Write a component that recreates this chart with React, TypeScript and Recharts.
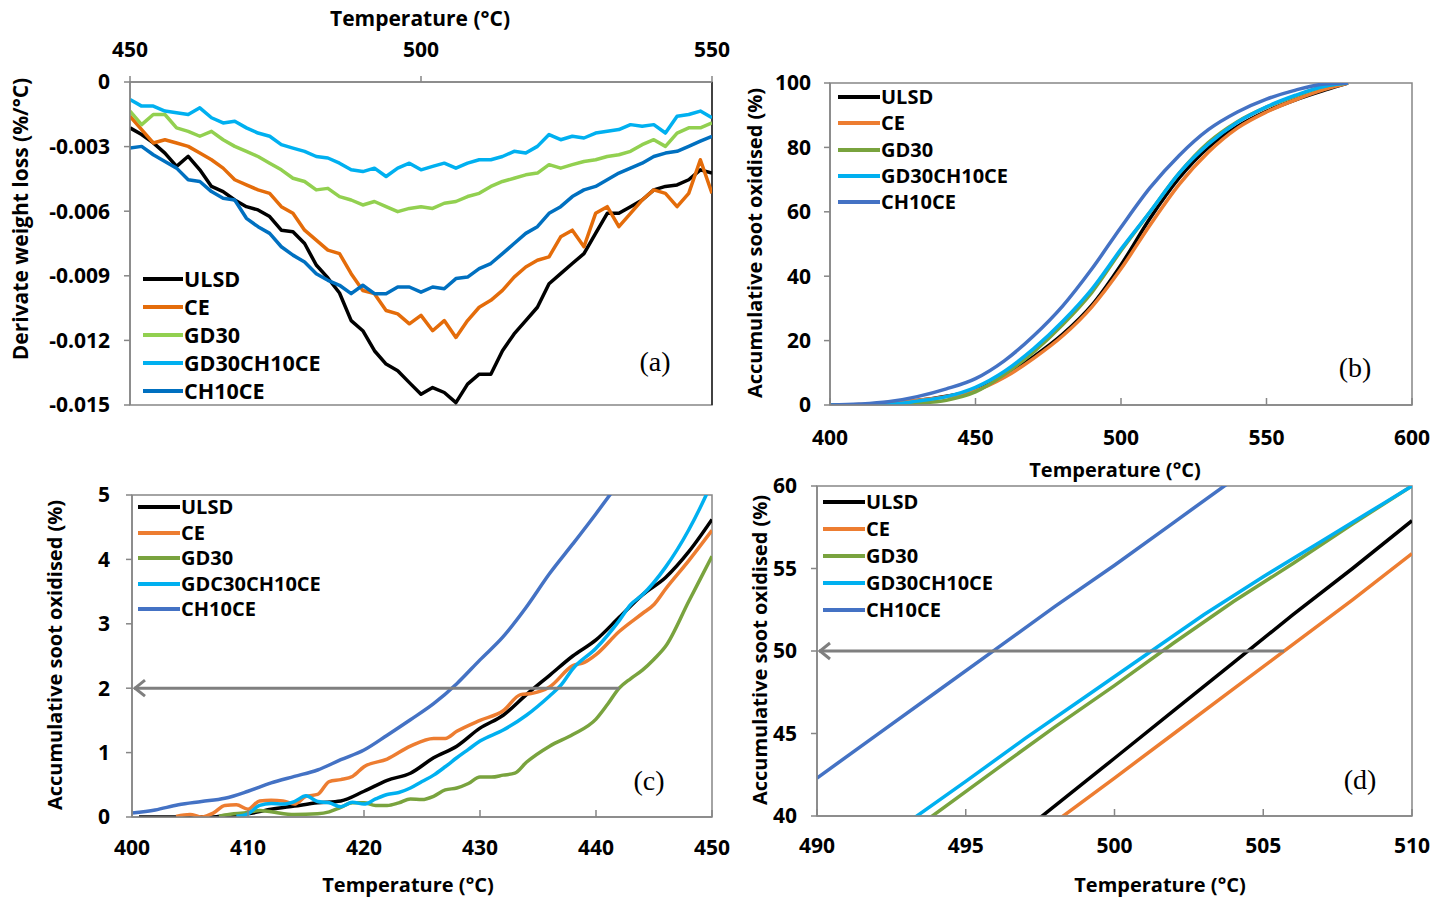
import { LineChart, Line, XAxis, YAxis, ReferenceArea, ReferenceLine, Legend } from 'recharts'

const FONT = '"Open Sans", sans-serif'
const AXIS = '#868686'

// ---- panel (a): derivative weight loss ----
const TEMP_A = [450, 452, 454, 456, 458, 460, 462, 464, 466, 468, 470, 472, 474, 476, 478, 480, 482, 484, 486, 488, 490, 492, 494, 496, 498, 500, 502, 504, 506, 508, 510, 512, 514, 516, 518, 520, 522, 524, 526, 528, 530, 532, 534, 536, 538, 540, 542, 544, 546, 548, 550]
const ULSD_A = [-0.00213, -0.00244, -0.00283, -0.0033, -0.00392, -0.00345, -0.00408, -0.00485, -0.00509, -0.00548, -0.00579, -0.00594, -0.00625, -0.00688, -0.00695, -0.0075, -0.0085, -0.0091, -0.0098, -0.01108, -0.01155, -0.01248, -0.0131, -0.01341, -0.01396, -0.0145, -0.01419, -0.01442, -0.01489, -0.01403, -0.01357, -0.01357, -0.01248, -0.0117, -0.01108, -0.01046, -0.00937, -0.0089, -0.00843, -0.00797, -0.00703, -0.0061, -0.0061, -0.00579, -0.00548, -0.00501, -0.00485, -0.00478, -0.00454, -0.00408, -0.00423]
const CE_A = [-0.00159, -0.00221, -0.00283, -0.00268, -0.00283, -0.00299, -0.0033, -0.00361, -0.004, -0.00454, -0.00478, -0.00501, -0.00517, -0.00579, -0.0061, -0.00688, -0.00734, -0.00781, -0.00797, -0.0089, -0.00968, -0.00983, -0.01061, -0.01077, -0.01123, -0.01084, -0.01155, -0.01108, -0.01186, -0.01108, -0.01046, -0.01014, -0.00968, -0.00906, -0.00859, -0.00828, -0.00812, -0.00719, -0.00688, -0.00765, -0.0061, -0.00579, -0.00672, -0.0061, -0.00548, -0.00501, -0.00517, -0.00579, -0.00517, -0.00361, -0.00517]
const GD30_A = [-0.00135, -0.00198, -0.00151, -0.00151, -0.00213, -0.00229, -0.00252, -0.00229, -0.00268, -0.00299, -0.00322, -0.00346, -0.00377, -0.00408, -0.00447, -0.00462, -0.00501, -0.00494, -0.00532, -0.00548, -0.00571, -0.00555, -0.00579, -0.00602, -0.00587, -0.00579, -0.00587, -0.00563, -0.00555, -0.00532, -0.00517, -0.00485, -0.00462, -0.00447, -0.00431, -0.00423, -0.00384, -0.004, -0.00384, -0.00369, -0.00361, -0.00346, -0.00338, -0.00322, -0.00291, -0.00268, -0.00299, -0.00237, -0.00213, -0.00213, -0.0019]
const GDCH_A = [-0.00081, -0.00112, -0.00112, -0.00135, -0.00143, -0.00151, -0.0012, -0.00166, -0.0019, -0.00182, -0.00213, -0.00237, -0.00252, -0.00291, -0.00307, -0.00322, -0.00346, -0.00353, -0.00377, -0.00408, -0.00416, -0.004, -0.00439, -0.004, -0.00377, -0.00408, -0.00392, -0.00377, -0.004, -0.00377, -0.00361, -0.00361, -0.00346, -0.00322, -0.0033, -0.00299, -0.00244, -0.00268, -0.00252, -0.0026, -0.00237, -0.00229, -0.00221, -0.00198, -0.00205, -0.00198, -0.00237, -0.00159, -0.00151, -0.00135, -0.00166]
const CH_A = [-0.00307, -0.00299, -0.00338, -0.00369, -0.004, -0.00454, -0.00462, -0.00509, -0.0054, -0.00548, -0.00633, -0.00672, -0.00703, -0.00765, -0.00804, -0.00836, -0.0089, -0.00921, -0.00944, -0.00983, -0.00944, -0.00983, -0.00983, -0.00952, -0.00952, -0.00976, -0.00952, -0.0096, -0.00913, -0.00906, -0.00867, -0.00843, -0.00797, -0.0075, -0.00703, -0.00672, -0.0061, -0.00579, -0.00532, -0.00501, -0.00485, -0.00454, -0.00423, -0.004, -0.00377, -0.00346, -0.0033, -0.00322, -0.00299, -0.00275, -0.00252]
const XTICKS_A = [450, 500, 550]
const YTICKS_A = [0, -0.003, -0.006, -0.009, -0.012, -0.015]

// ---- panel (b): accumulative soot oxidised, full range ----
const TEMP_B = [400, 410, 420, 430, 440, 450, 460, 470, 480, 490, 500, 510, 520, 530, 540, 550, 560, 570, 578]
const ULSD_B = [0, 0.05, 0.4, 1.4, 2.75, 4.6, 9, 15, 22, 31, 43.5, 58, 70.5, 80, 86.5, 91.2, 94.8, 97.8, 100]
const CE_B = [0, 0.15, 0.8, 1.5, 2.6, 4.45, 8.6, 14.5, 21.5, 30.5, 42.3, 55.9, 68.5, 78.5, 86, 91, 94.8, 98, 100]
const GD30_B = [0, 0.07, 0.2, 0.6, 1.5, 4.05, 9.5, 16.5, 25, 35, 47.9, 60, 72, 81.5, 88, 92.5, 96, 99, 100]
const GDCH_B = [0, 0.05, 0.2, 1.2, 2.6, 5.5, 10.5, 17.5, 26, 36, 48.4, 60, 72, 81, 87.8, 92.6, 96.2, 99, 100]
const CH_B = [0, 0.3, 1.0, 2.6, 5.0, 8.2, 13.8, 21.5, 30.8, 42.3, 55.2, 67.5, 77.5, 85.5, 91, 95, 97.8, 99.7, 100]
const XTICKS_B = [400, 450, 500, 550, 600]
const YTICKS_B = [0, 20, 40, 60, 80, 100]

// ---- panel (c): 400-450 °C zoom ----
const ULSD_C_T = [400.6, 402, 404, 406, 407, 408, 410, 412, 414, 416, 418, 420, 422, 424, 426, 428, 430, 432, 434, 436, 438, 440, 442, 444, 446, 448, 450]
const ULSD_C = [0, 0, 0, 0, 0, 0.02, 0.05, 0.12, 0.17, 0.22, 0.25, 0.4, 0.57, 0.68, 0.92, 1.1, 1.38, 1.58, 1.9, 2.2, 2.5, 2.75, 3.1, 3.45, 3.72, 4.12, 4.62]
const CE_C_T = [403.8, 405, 406, 407, 408, 409, 410, 411, 412, 413, 414, 415, 416, 417, 418, 419, 420, 422, 424, 426, 427, 428, 430, 432, 433.5, 434.5, 436, 438, 439, 440, 442, 444, 445, 446, 448, 450]
const CE_C = [0.01, 0.04, 0.0, 0.06, 0.18, 0.19, 0.12, 0.25, 0.26, 0.25, 0.2, 0.32, 0.35, 0.55, 0.58, 0.63, 0.78, 0.9, 1.1, 1.22, 1.22, 1.33, 1.5, 1.65, 1.9, 1.92, 2.02, 2.35, 2.4, 2.52, 2.88, 3.16, 3.3, 3.54, 3.98, 4.45]
const GD30_C_T = [407.5, 408, 410, 411, 412, 414, 416, 417, 418, 419, 420, 421, 422, 423, 424, 425, 426, 427, 428, 429, 430, 431, 432, 433, 434, 436, 438, 440, 441, 442, 443, 444, 445, 446, 448, 450]
const GD30_C = [0.01, 0.03, 0.07, 0.1, 0.08, 0.04, 0.05, 0.08, 0.15, 0.22, 0.22, 0.18, 0.18, 0.22, 0.28, 0.27, 0.32, 0.42, 0.45, 0.52, 0.62, 0.62, 0.65, 0.68, 0.85, 1.1, 1.28, 1.52, 1.75, 2.0, 2.15, 2.28, 2.45, 2.65, 3.35, 4.05]
const GDCH_C_T = [409, 410, 411, 412, 413, 414, 415, 416, 417, 418, 419, 420, 421, 422, 423, 424, 425, 426, 427, 428, 429, 430, 432, 434, 436, 437, 438, 440, 442, 443, 444, 446, 448, 449.5, 450]
const GDCH_C = [0.01, 0.05, 0.18, 0.21, 0.2, 0.24, 0.33, 0.24, 0.22, 0.16, 0.23, 0.2, 0.28, 0.35, 0.38, 0.45, 0.55, 0.65, 0.78, 0.92, 1.05, 1.18, 1.35, 1.58, 1.88, 2.05, 2.3, 2.62, 3.05, 3.3, 3.45, 3.88, 4.46, 5.0, 5.2]
const CH_C_T = [400, 402, 404, 406, 408, 410, 412, 414, 416, 418, 420, 422, 424, 426, 428, 430, 432, 434, 436, 438, 440, 442]
const CH_C = [0.06, 0.11, 0.19, 0.24, 0.29, 0.4, 0.53, 0.63, 0.73, 0.89, 1.04, 1.27, 1.51, 1.76, 2.07, 2.44, 2.8, 3.26, 3.78, 4.24, 4.71, 5.2]
const XTICKS_C = [400, 410, 420, 430, 440, 450]
const YTICKS_C = [0, 1, 2, 3, 4, 5]

// ---- panel (d): 490-510 °C zoom ----
const ULSD_D_T = [497.5, 500, 502, 504, 506, 508, 510]
const ULSD_D = [39.9, 43.5, 46.4, 49.3, 52.2, 55.0, 57.9]
const CE_D_T = [498.2, 500, 502, 504, 506, 508, 510]
const CE_D = [39.9, 42.3, 45.0, 47.7, 50.4, 53.1, 55.9]
const GD30_D_T = [493.8, 496, 498, 500, 502, 504, 506, 508, 510]
const GD30_D = [39.9, 42.8, 45.4, 47.9, 50.5, 53, 55.3, 57.7, 60]
const GDCH_D_T = [493.2, 495, 497, 499, 501, 503, 505, 507, 509, 510]
const GDCH_D = [39.8, 42.1, 44.7, 47.2, 49.7, 52.2, 54.5, 56.7, 58.9, 60]
const CH_D_T = [490, 492, 494, 496, 498, 500, 502, 504]
const CH_D = [42.3, 44.9, 47.5, 50.1, 52.7, 55.2, 57.8, 60.4]
const XTICKS_D = [490, 495, 500, 505, 510]
const YTICKS_D = [40, 45, 50, 55, 60]

const NAMES = ['ULSD', 'CE', 'GD30', 'GD30CH10CE', 'CH10CE']
const NAMES_C = ['ULSD', 'CE', 'GD30', 'GDC30CH10CE', 'CH10CE']
const COLORS_A = ['#000000', '#E46C0A', '#92D050', '#00B0F0', '#0070C0']
const COLORS = ['#000000', '#ED7D31', '#79A33E', '#00B0F0', '#4472C4']

const pts = (t: number[], v: number[]) => t.map((x, i) => ({ t: x, v: v[i] }))

const tickStyle = { fontSize: 21, fontWeight: 700, fill: '#000', fontFamily: FONT }

function legendContent(names: string[], colors: string[], fontSize: number, rowH: number, lineW: number) {
  return () => (
    <div style={{ fontFamily: FONT, fontWeight: 700, fontSize, color: '#000' }}>
      {names.map((n, i) => (
        <div key={n} style={{ display: 'flex', alignItems: 'center', height: rowH }}>
          <span style={{ display: 'inline-block', width: lineW, height: 4, background: colors[i] }} />
          <span style={{ marginLeft: 1, whiteSpace: 'nowrap', lineHeight: 1 }}>{n}</span>
        </div>
      ))}
    </div>
  )
}

const Arrow = (props: any) => {
  const { x1, y1, x2, y2 } = props
  return (
    <g>
      <line x1={x1} y1={y1} x2={x2 + 2} y2={y2} stroke="#7F7F7F" strokeWidth={3} />
      <polyline points={`${x2 + 13},${y2 - 8} ${x2 + 3},${y2} ${x2 + 13},${y2 + 8}`} fill="none" stroke="#7F7F7F" strokeWidth={3} />
    </g>
  )
}

const Txt = ({ x, y, children, rotate, serif, size }: any) => (
  <div
    style={{
      position: 'absolute', left: x, top: y, whiteSpace: 'nowrap',
      transform: `translate(-50%, -50%)${rotate ? ' rotate(-90deg)' : ''}`,
      fontFamily: serif ? '"Liberation Serif", serif' : FONT,
      fontWeight: serif ? 400 : 700,
      fontSize: size || 20, color: '#000', lineHeight: 1,
    }}
  >
    {children}
  </div>
)

export default function App() {
  const seriesA = [ULSD_A, CE_A, GD30_A, GDCH_A, CH_A]
  const seriesB = [ULSD_B, CE_B, GD30_B, GDCH_B, CH_B]
  const seriesC = [pts(ULSD_C_T, ULSD_C), pts(CE_C_T, CE_C), pts(GD30_C_T, GD30_C), pts(GDCH_C_T, GDCH_C), pts(CH_C_T, CH_C)]
  const seriesD = [pts(ULSD_D_T, ULSD_D), pts(CE_D_T, CE_D), pts(GD30_D_T, GD30_D), pts(GDCH_D_T, GDCH_D), pts(CH_D_T, CH_D)]

  return (
    <div style={{ position: 'absolute', left: 0, top: 0, width: 1453, height: 905, background: '#fff', overflow: 'hidden' }}>
      {/* (a) */}
      <div style={{ position: 'absolute', left: 0, top: 0 }}>
        <LineChart width={730} height={420} margin={{ top: 42, right: 18, bottom: 15, left: 50 }}>
          <XAxis type="number" dataKey="t" orientation="top" domain={[450, 550]} ticks={XTICKS_A} interval={0}
            allowDataOverflow stroke={AXIS} strokeWidth={1.5} tickSize={6} tickMargin={19} height={40} tick={tickStyle} />
          <YAxis type="number" domain={[-0.015, 0]} ticks={YTICKS_A} interval={0} allowDataOverflow width={80}
            stroke={AXIS} strokeWidth={1.5} tickSize={6} tickMargin={14} tick={tickStyle}
            tickFormatter={(v: number) => (v === 0 ? '0' : v.toFixed(3))} />
          <ReferenceArea x1={450} x2={550} y1={-0.015} y2={0} fill="none" stroke={AXIS} strokeWidth={1.5} />
          <ReferenceLine x={550} stroke="#000" strokeWidth={1.2} />
          {NAMES.map((n, i) => (
            <Line key={n} name={n} data={pts(TEMP_A, seriesA[i])} dataKey="v" type="linear" stroke={COLORS_A[i]}
              strokeWidth={3.5} strokeLinejoin="round" dot={false} isAnimationActive={false} />
          ))}
          <Legend layout="horizontal" verticalAlign="middle" align="center"
            wrapperStyle={{ left: 143, top: 265, width: 260 }} content={legendContent(NAMES, COLORS_A, 21.5, 28, 40)} />
        </LineChart>
      </div>

      {/* (b) */}
      <div style={{ position: 'absolute', left: 730, top: 60 }}>
        <LineChart width={723} height={420} margin={{ top: 23, right: 41, bottom: 35, left: 30 }}>
          <XAxis type="number" dataKey="t" domain={[400, 600]} ticks={XTICKS_B} interval={0} allowDataOverflow
            stroke={AXIS} strokeWidth={1.5} tickSize={-7} tickMargin={32} height={40} tick={tickStyle} />
          <YAxis type="number" domain={[0, 100]} ticks={YTICKS_B} interval={0} allowDataOverflow width={70}
            stroke={AXIS} strokeWidth={1.5} tickSize={6} tickMargin={13} tick={tickStyle} />
          <ReferenceArea x1={400} x2={600} y1={0} y2={100} fill="none" stroke={AXIS} strokeWidth={1.5} />
          {NAMES.map((n, i) => (
            <Line key={n} name={n} data={pts(TEMP_B, seriesB[i])} dataKey="v" type="monotone" stroke={COLORS[i]}
              strokeWidth={3.5} dot={false} isAnimationActive={false} />
          ))}
          <Legend layout="horizontal" verticalAlign="middle" align="center"
            wrapperStyle={{ left: 108, top: 24, width: 260 }} content={legendContent(NAMES, COLORS, 20, 26.3, 42)} />
        </LineChart>
      </div>

      {/* (c) */}
      <div style={{ position: 'absolute', left: 0, top: 470 }}>
        <LineChart width={730} height={435} margin={{ top: 25, right: 18, bottom: 48, left: 62 }}>
          <XAxis type="number" dataKey="t" domain={[400, 450]} ticks={XTICKS_C} interval={0} allowDataOverflow
            stroke={AXIS} strokeWidth={1.5} tickSize={-7} tickMargin={30.5} height={40} tick={tickStyle} />
          <YAxis type="number" domain={[0, 5]} ticks={YTICKS_C} interval={0} allowDataOverflow width={70}
            stroke={AXIS} strokeWidth={1.5} tickSize={6} tickMargin={16} tick={tickStyle} />
          <ReferenceArea x1={400} x2={450} y1={0} y2={5} fill="none" stroke={AXIS} strokeWidth={1.5} />
          {NAMES.map((n, i) => (
            <Line key={n} name={NAMES_C[i]} data={seriesC[i]} dataKey="v" type="monotone" stroke={COLORS[i]}
              strokeWidth={3.5} dot={false} isAnimationActive={false} />
          ))}
          <ReferenceLine segment={[{ x: 442, y: 2 }, { x: 400, y: 2 }]} ifOverflow="visible" shape={Arrow} />
          <Legend layout="horizontal" verticalAlign="middle" align="center"
            wrapperStyle={{ left: 138, top: 24.5, width: 260 }} content={legendContent(NAMES_C, COLORS, 20, 25.5, 42)} />
        </LineChart>
      </div>

      {/* (d) */}
      <div style={{ position: 'absolute', left: 730, top: 470 }}>
        <LineChart width={723} height={435} margin={{ top: 16, right: 41, bottom: 49, left: 27 }}>
          <XAxis type="number" dataKey="t" domain={[490, 510]} ticks={XTICKS_D} interval={0} allowDataOverflow
            stroke={AXIS} strokeWidth={1.5} tickSize={-7} tickMargin={29.5} height={40} tick={tickStyle} />
          <YAxis type="number" domain={[40, 60]} ticks={YTICKS_D} interval={0} allowDataOverflow width={60}
            stroke={AXIS} strokeWidth={1.5} tickSize={6} tickMargin={14} tick={tickStyle} />
          <ReferenceArea x1={490} x2={510} y1={40} y2={60} fill="none" stroke={AXIS} strokeWidth={1.5} />
          {NAMES.map((n, i) => (
            <Line key={n} name={n} data={seriesD[i]} dataKey="v" type="linear" stroke={COLORS[i]}
              strokeWidth={3.5} dot={false} isAnimationActive={false} />
          ))}
          <ReferenceLine segment={[{ x: 505.7, y: 50 }, { x: 490, y: 50 }]} ifOverflow="visible" shape={Arrow} />
          <Legend layout="horizontal" verticalAlign="middle" align="center"
            wrapperStyle={{ left: 93, top: 18.5, width: 260 }} content={legendContent(NAMES, COLORS, 20, 27, 42)} />
        </LineChart>
      </div>

      <Txt x={420} y={18} size={21}>Temperature (°C)</Txt>
      <Txt x={20} y={219} rotate size={21}>Derivate weight loss (%/°C)</Txt>
      <Txt x={755} y={243} rotate>Accumulative soot oxidised (%)</Txt>
      <Txt x={1115} y={470}>Temperature (°C)</Txt>
      <Txt x={55} y={655} rotate>Accumulative soot oxidised (%)</Txt>
      <Txt x={408} y={885}>Temperature (°C)</Txt>
      <Txt x={760} y={650} rotate>Accumulative soot oxidised (%)</Txt>
      <Txt x={1160} y={885}>Temperature (°C)</Txt>

      <Txt x={655} y={362} serif size={28}>(a)</Txt>
      <Txt x={1355} y={368} serif size={28}>(b)</Txt>
      <Txt x={649} y={781} serif size={28}>(c)</Txt>
      <Txt x={1360} y={780} serif size={28}>(d)</Txt>
    </div>
  )
}
